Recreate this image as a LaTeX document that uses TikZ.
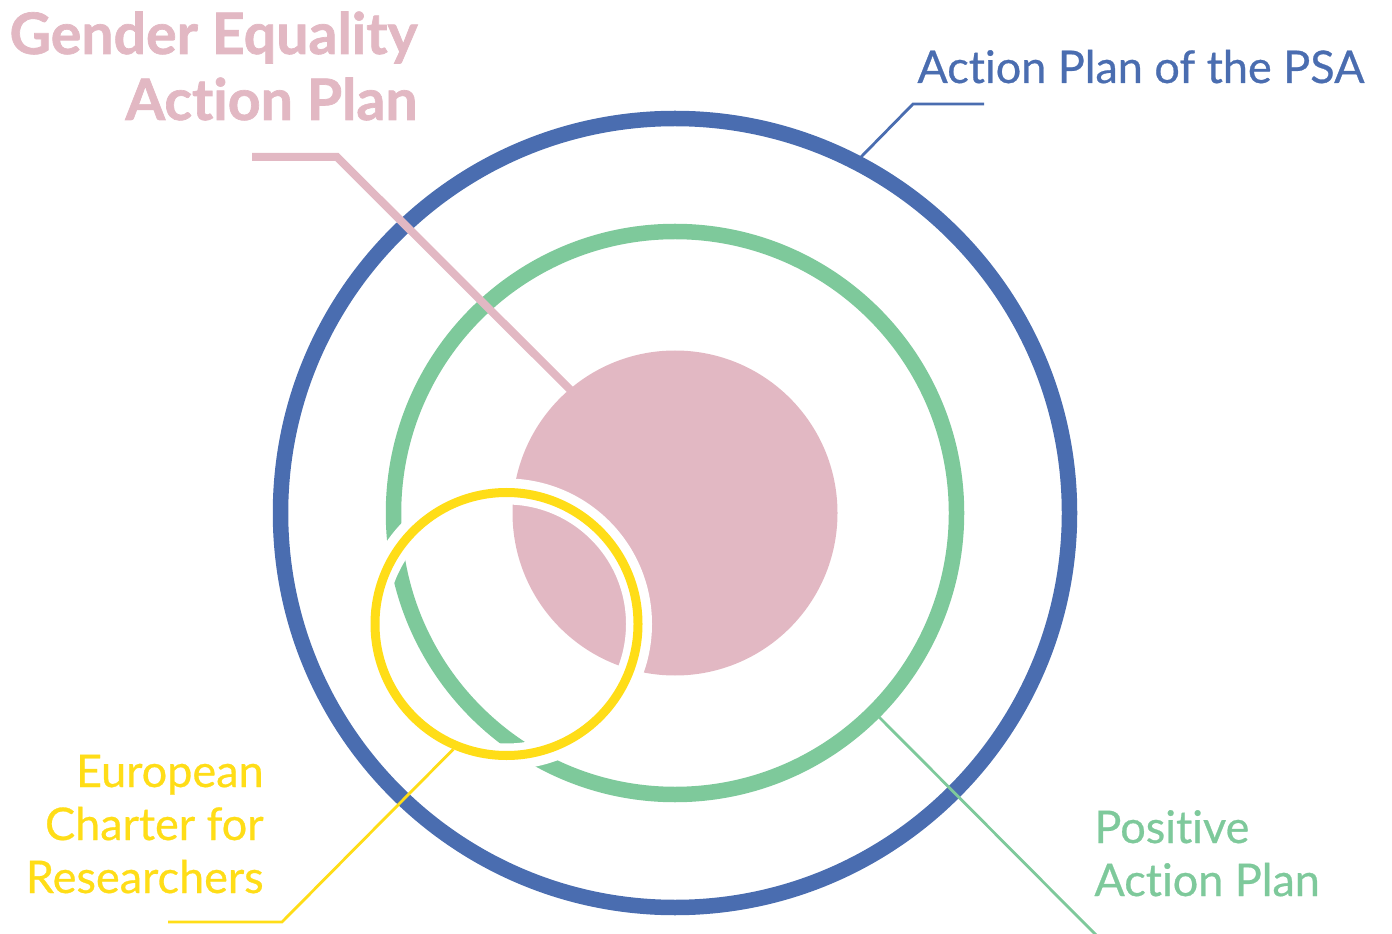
\documentclass[tikz,border=0pt]{standalone}
\usepackage{fontspec}
\setmainfont{Lato}[Ligatures=NoCommon]
\newfontfamily\medfont{Lato}[Ligatures=NoCommon, FakeBold=0.6]
\newfontfamily\heavyfont{Lato}[Ligatures=NoCommon, BoldFeatures={FakeBold=1.2}]
\usepackage{tikz}
\usetikzlibrary{calc}
\definecolor{psablue}{HTML}{4A6DB0}
\definecolor{posgreen}{HTML}{7EC99B}
\definecolor{geppink}{HTML}{E2B8C3}
\definecolor{chyellow}{HTML}{FFDD17}
\tikzset{
  ring/.style={line width=7.75pt},
  gap/.style={draw=white, line width=13pt},
  lead/.style={line width=1.4pt, line join=miter},
  lab/.style={inner sep=0pt, font=\medfont\fontsize{22.5}{26.5}\selectfont},
  labbig/.style={inner sep=0pt, font=\heavyfont\bfseries\fontsize{28.6}{33}\selectfont},
}

\begin{document}
\begin{tikzpicture}[x=0.5pt,y=0.5pt]
  \useasboundingbox (0,0) rectangle (1392,933);
  \coordinate (O) at (675,420);
  \coordinate (Y) at (506.5,309);
  % rings
  \draw[ring, draw=psablue] (O) circle (394.5);
  \draw[ring, draw=posgreen] (O) circle (281.5);
  \fill[geppink] (O) circle (162.5);
  \draw[gap] (Y) circle (132.5);
  \draw[chyellow, line width=4.5pt] (Y) circle (131.5);
  % labels (base = last line)
  \node[labbig, text=geppink, align=right, anchor=base east] (gepLab) at (418,813) {Gender Equality\\Action Plan};
  \node[lab, text=psablue, anchor=base west] (psaLab) at (917,850) {Action Plan of the PSA};
  \node[lab, text=chyellow, align=right, anchor=base east] (chLab) at (264,40) {European\\Charter for\\Researchers};
  \node[lab, text=posgreen, align=left, anchor=base west] (posLab) at (1094,37) {Positive\\Action Plan};
  % leaders
  \coordinate (psaA) at ($(O)+(62.4:402)$);
  \coordinate (psaB) at (913,829);
  \coordinate (psaC) at (984,829);
  \coordinate (gepA) at ($(O)+(130:150)$);
  \coordinate (gepB) at (337,776);
  \coordinate (gepC) at (252,776);
  \coordinate (posA) at ($(O)+(-45:289)$);
  \coordinate (posB) at (1099,-5);
  \coordinate (chA) at ($(Y)+(-113:136)$);
  \coordinate (chB) at (282,11);
  \coordinate (chC) at (168,11);
  \draw[lead, psablue] (psaA) -- (psaB) -- (psaC);
  \draw[lead, posgreen] (posA) -- (posB);
  \draw[lead, chyellow] (chA) -- (chB) -- (chC);
  \draw[geppink, line width=4pt, line join=miter] (gepA) -- (gepB) -- (gepC);
\end{tikzpicture}
\end{document}
